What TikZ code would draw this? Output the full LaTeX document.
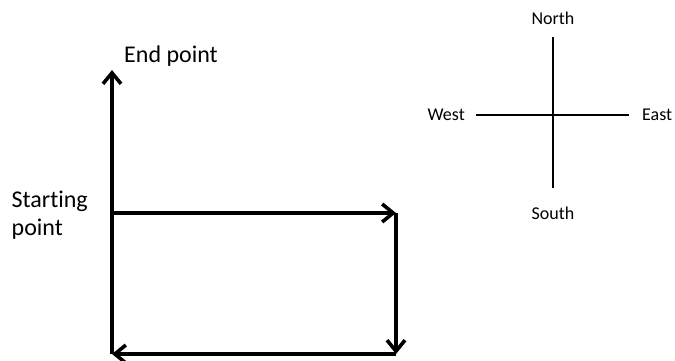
\documentclass[tikz,border=0pt]{standalone}
\usepackage{fontspec}
\setmainfont[Ligatures=NoCommon]{Carlito}
\usetikzlibrary{arrows.meta, positioning}

\begin{document}
\begin{tikzpicture}[x=1pt, y=-1pt,
    node distance=12pt and 12pt,
    pathline/.style={line width=3.6pt, -{Straight Barb[length=11pt, width=18pt]}},
    compassline/.style={line width=1.5pt},
    biglabel/.style={font=\fontsize{24}{28}\selectfont, inner sep=0pt, align=left},
    dirlabel/.style={font=\fontsize{18}{22}\selectfont, inner sep=0pt}
  ]
    \useasboundingbox (0,0) rectangle (675,360);

    % Corners of the walk
    \coordinate (Start) at (112,213);
    \coordinate (C1) at (396,213);
    \coordinate (C2) at (396,354);
    \coordinate (C3) at (112,354);
    \coordinate (End) at (112,70);

    % Arrows of the walk
    \draw[pathline] (Start) -- (C1);
    \draw[pathline] (C1) -- (C2);
    \draw[pathline] (C2) -- (C3);
    \draw[pathline] (C3) -- (End);

    % Labels of the walk
    \node[biglabel, above right=3pt and 12pt of End] (EndLabel) {End point};
    \node[biglabel, left=24pt of Start, yshift=-2pt] (StartLabel) {Starting\\point};

    % Compass
    \coordinate (O) at (553,115);
    \coordinate (Nend) at (553,37);
    \coordinate (Send) at (553,188);
    \coordinate (Wend) at (476,115);
    \coordinate (Eend) at (629,115);

    \draw[compassline] (Nend) -- (Send);
    \draw[compassline] (Wend) -- (Eend);

    \node[dirlabel, above=12pt of Nend] (North) {North};
    \node[dirlabel, below=19pt of Send] (South) {South};
    \node[dirlabel, left=11pt of Wend] (West) {West};
    \node[dirlabel, right=13pt of Eend] (East) {East};

  \end{tikzpicture}
\end{document}
